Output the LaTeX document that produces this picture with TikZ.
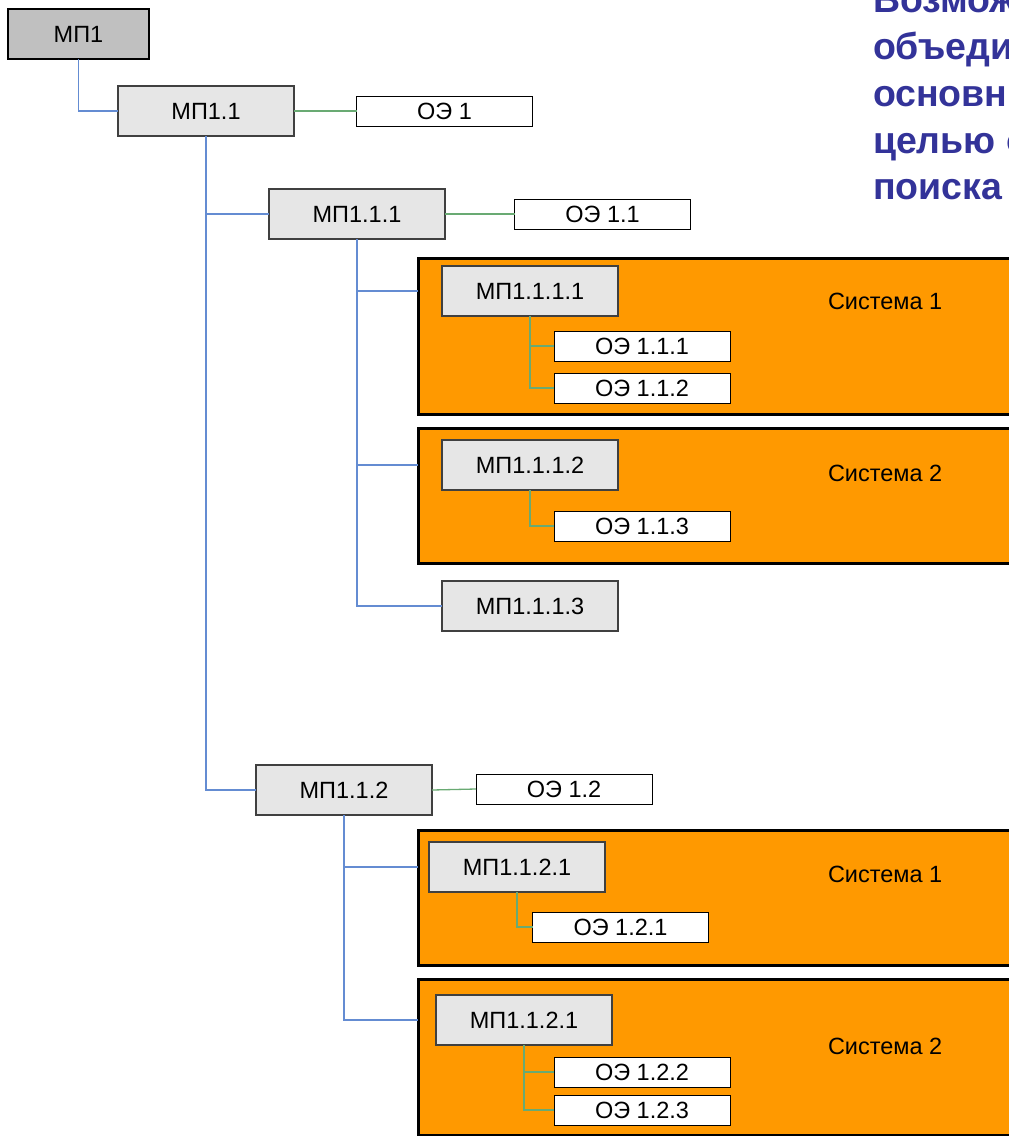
\documentclass[tikz,border=0pt]{standalone}
\usepackage{fontspec}
\setmainfont{Liberation Sans}
\definecolor{grayfill}{RGB}{230,230,230}
\definecolor{darkfill}{RGB}{192,192,192}
\definecolor{boxline}{RGB}{64,64,64}
\definecolor{sysorange}{RGB}{255,153,0}
\definecolor{linkblue}{RGB}{100,140,210}
\definecolor{linkgreen}{RGB}{105,170,115}
\definecolor{titleblue}{RGB}{51,51,153}
\begin{document}
\begin{tikzpicture}[x=1pt,y=-1pt,
  every node/.style={outer sep=0pt, inner sep=0pt},
  lbl/.style={font=\fontsize{23.5}{28}\selectfont},
  mpbox/.style={lbl, draw=boxline, fill=grayfill, line width=1.3pt, minimum width=176pt, minimum height=50pt},
  topbox/.style={mpbox, fill=darkfill, draw=black, minimum width=141pt},
  oebox/.style={lbl, draw=black, fill=white, line width=1pt, minimum width=176pt, minimum height=30pt},
  sysbox/.style={draw=black, fill=sysorange, line width=3pt, anchor=north west, minimum width=620pt},
  systxt/.style={lbl, anchor=west},
  titletxt/.style={font=\fontsize{37.5}{46}\selectfont\bfseries, text=titleblue, anchor=base west},
  bl/.style={draw=linkblue, line width=1.2pt},
  gl/.style={draw=linkgreen, line width=1.3pt}]
\useasboundingbox (0,0) rectangle (1009,1136);
\clip (0,0) rectangle (1009,1136);
\fill[white] (0,0) rectangle (1009,1136);

% title (cut by the page edges, as in the source)
\node[titletxt] (t1) at (873,12) {Возмож};
\node[titletxt] (t2) at (873,59) {объеди};
\node[titletxt] (t3) at (873,106) {основн};
\node[titletxt] (t4) at (873,153) {целью о};
\node[titletxt] (t5) at (873,199) {поиска};

% system frames
\node[sysbox, minimum height=156pt] (sys1) at (418,258) {};
\node[sysbox, minimum height=135pt] (sys2) at (418,428) {};
\node[sysbox, minimum height=135pt] (sys3) at (418,830) {};
\node[sysbox, minimum height=156pt] (sys4) at (418,979) {};
\node[systxt] (s1) at (828,301) {Система 1};
\node[systxt] (s2) at (828,473) {Система 2};
\node[systxt] (s3) at (828,874) {Система 1};
\node[systxt] (s4) at (828,1046) {Система 2};

% boxes
\node[topbox] (mp1) at (78.5,34) {МП1};
\node[mpbox] (mp11) at (206,111) {МП1.1};
\node[oebox] (oe1) at (444.5,111) {ОЭ 1};
\node[mpbox] (mp111) at (357,214) {МП1.1.1};
\node[oebox] (oe11) at (602.5,214) {ОЭ 1.1};
\node[mpbox] (mp1111) at (530,291) {МП1.1.1.1};
\node[oebox] (oe111) at (642,346) {ОЭ 1.1.1};
\node[oebox] (oe112) at (642,388) {ОЭ 1.1.2};
\node[mpbox] (mp1112) at (530,465) {МП1.1.1.2};
\node[oebox] (oe113) at (642,526) {ОЭ 1.1.3};
\node[mpbox] (mp1113) at (530,606) {МП1.1.1.3};
\node[mpbox] (mp112) at (344,790) {МП1.1.2};
\node[oebox] (oe12) at (564,789) {ОЭ 1.2};
\node[mpbox] (mp1121a) at (517,867) {МП1.1.2.1};
\node[oebox] (oe121) at (620.5,927) {ОЭ 1.2.1};
\node[mpbox] (mp1121b) at (524,1020) {МП1.1.2.1};
\node[oebox] (oe122) at (642,1072) {ОЭ 1.2.2};
\node[oebox] (oe123) at (642,1110) {ОЭ 1.2.3};

% connectors
\draw[bl] (mp1.south) |- (mp11.west);
\draw[gl] (mp11.east) -- (oe1.west);
\draw[bl] (mp11.south) |- (mp111.west);
\draw[bl] (mp11.south) |- (mp112.west);
\draw[gl] (mp111.east) -- (oe11.west);
\draw[bl] (mp111.south) |- (sys1.west |- mp1111.west);
\draw[bl] (mp111.south) |- (sys2.west |- mp1112.west);
\draw[bl] (mp111.south) |- (mp1113.west);
\draw[gl] (mp1111.south) |- (oe111.west);
\draw[gl] (mp1111.south) |- (oe112.west);
\draw[gl] (mp1112.south) |- (oe113.west);
\draw[gl] (mp112.east) -- (oe12.west);
\draw[bl] (mp112.south) |- (sys3.west |- mp1121a.west);
\draw[bl] (mp112.south) |- (sys4.west |- mp1121b.west);
\draw[gl] (mp1121a.south) |- (oe121.west);
\draw[gl] (mp1121b.south) |- (oe122.west);
\draw[gl] (mp1121b.south) |- (oe123.west);
\end{tikzpicture}
\end{document}
